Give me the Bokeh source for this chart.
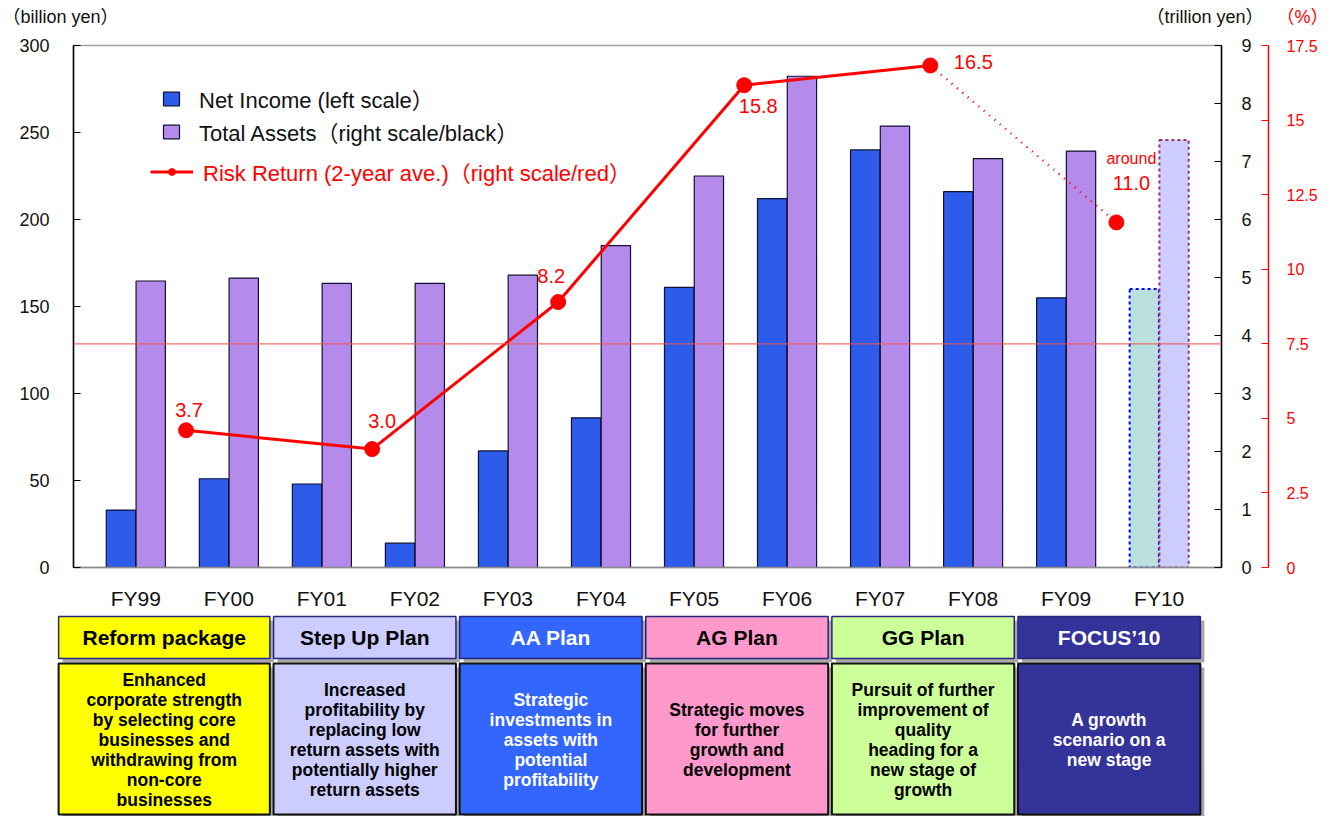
from bokeh.plotting import figure
from bokeh.models import (ColumnDataSource, Range1d, FactorRange, LinearAxis,
                          SingleIntervalTicker, NumeralTickFormatter, Span,
                          Legend, LegendItem)
from bokeh.transform import dodge
from bokeh.core.properties import value
from bokeh.embed import file_html
from bokeh.resources import INLINE

# ---------------- data ----------------
fiscal_years = ["FY99", "FY00", "FY01", "FY02", "FY03", "FY04",
                "FY05", "FY06", "FY07", "FY08", "FY09", "FY10"]
net_income = [33, 51, 48, 14, 67, 86, 161, 212, 240, 216, 155, 160]        # billion yen
total_assets = [4.94, 4.99, 4.90, 4.90, 5.04, 5.55, 6.75, 8.47, 7.61, 7.05, 7.18, 7.37]  # trillion yen
forecast_year = "FY10"

rr_period_end = ["FY00", "FY02", "FY04", "FY06", "FY08", "FY10"]            # 2-year periods
risk_return = [4.6, 3.97, 8.9, 16.17, 16.83, 11.57]                          # % (as plotted)
risk_return_labels = ["3.7", "3.0", "8.2", "15.8", "16.5", "11.0"]
risk_return_prefix = ["", "", "", "", "", "around"]

unit_captions = ["\uff08billion yen\uff09", "\uff08trillion yen\uff09", "\uff08%\uff09"]

plan_names = ["Reform package", "Step Up Plan", "AA Plan", "AG Plan", "GG Plan", "FOCUS\u201910"]
plan_start = ["FY99", "FY01", "FY03", "FY05", "FY07", "FY09"]
plan_end = ["FY00", "FY02", "FY04", "FY06", "FY08", "FY10"]
plan_texts = [
    "Enhanced\ncorporate strength\nby selecting core\nbusinesses and\nwithdrawing from\nnon-core\nbusinesses",
    "Increased\nprofitability by\nreplacing low\nreturn assets with\npotentially higher\nreturn assets",
    "Strategic\ninvestments in\nassets with\npotential\nprofitability",
    "Strategic moves\nfor further\ngrowth and\ndevelopment",
    "Pursuit of further\nimprovement of\nquality\nheading for a\nnew stage of\ngrowth",
    "A growth\nscenario on a\nnew stage",
]

# ---------------- styles ----------------
FONT = "Liberation Sans, Noto Sans CJK JP"
plan_fill = ["#FFFF00", "#CCCCFF", "#3366FF", "#FF99CC", "#CCFF99", "#333399"]
plan_text_color = ["black", "black", "white", "black", "black", "white"]
label_dx = [3, 10, -7, 14, 43, 15]
label_dy = [-20, -28, -26, 21, -3, -39]
caption_x = [2, 1146, 1276]
caption_color = ["#111111", "#111111", "red"]

# ---------------- header strip (unit captions) ----------------
ph = figure(width=1332, height=30, x_range=Range1d(0, 1332), y_range=Range1d(30, 0),
            output_backend="svg", toolbar_location=None,
            x_axis_location=None, y_axis_location=None,
            min_border_left=0, min_border_right=0, min_border_top=0, min_border_bottom=0)
ph.grid.visible = False
ph.outline_line_color = None
ph.text(x=caption_x, y=[16] * 3, text=unit_captions, text_color=caption_color,
        text_baseline="middle", text_font=value(FONT), text_font_size="18px")

# ---------------- main chart ----------------
p = figure(width=1332, height=582,
           x_range=FactorRange(factors=fiscal_years, range_padding=0.17,
                               range_padding_units="absolute"),
           y_range=Range1d(0, 300),
           output_backend="svg", toolbar_location=None,
           min_border_left=73, min_border_right=111,
           min_border_top=15, min_border_bottom=42)
p.xgrid.visible = False
p.ygrid.visible = False
p.outline_line_color = "#A0A0A0"
p.outline_line_width = 1.5
p.extra_y_ranges = {"assets": Range1d(0, 9), "rr": Range1d(0, 17.5)}

actual = [i for i, fy in enumerate(fiscal_years) if fy != forecast_year]
plan = [i for i, fy in enumerate(fiscal_years) if fy == forecast_year]
src_act = ColumnDataSource(dict(fy=[fiscal_years[i] for i in actual],
                                ni=[net_income[i] for i in actual],
                                ta=[total_assets[i] for i in actual]))
src_plan = ColumnDataSource(dict(fy=[fiscal_years[i] for i in plan],
                                 ni=[net_income[i] for i in plan],
                                 ta=[total_assets[i] for i in plan]))

BW = 0.315
ni_r = p.vbar(x=dodge("fy", -0.16, range=p.x_range), top="ni", width=BW, source=src_act,
              fill_color="#2D5BEA", line_color="#111133", line_width=1.2)
ta_r = p.vbar(x=dodge("fy", 0.16, range=p.x_range), top="ta", width=BW, source=src_act,
              y_range_name="assets",
              fill_color="#B48BEA", line_color="#111133", line_width=1.2)
p.vbar(x=dodge("fy", -0.16, range=p.x_range), top="ni", width=BW, source=src_plan,
       fill_color="#BBE0E0", line_color="#0000FF", line_width=2, line_dash="3 3")
p.vbar(x=dodge("fy", 0.16, range=p.x_range), top="ta", width=BW, source=src_plan,
       y_range_name="assets",
       fill_color="#CCCCFF", line_color="#993366", line_width=2, line_dash="3 3")

# 7.5% reference line
p.add_layout(Span(location=7.5, dimension="width", y_range_name="rr",
                  line_color="#EE5555", line_alpha=0.85, line_width=1.3))

# risk return line
rr_src = ColumnDataSource(dict(fy=rr_period_end, rr=risk_return, lab=risk_return_labels,
                               pre=risk_return_prefix, dx=label_dx, dy=label_dy,
                               dy2=[d - 25 for d in label_dy]))
n_solid = 5
rr_solid = ColumnDataSource(dict(fy=rr_period_end[:n_solid], rr=risk_return[:n_solid]))
rr_dot = ColumnDataSource(dict(fy=rr_period_end[n_solid - 1:], rr=risk_return[n_solid - 1:]))
XOFF = -0.46
line_r = p.line(x=dodge("fy", XOFF, range=p.x_range), y="rr", source=rr_solid,
                y_range_name="rr", line_color="red", line_width=3)
p.line(x=dodge("fy", XOFF, range=p.x_range), y="rr", source=rr_dot,
       y_range_name="rr", line_color="red", line_width=2.5, line_dash="1 6")
pt_r = p.scatter(x=dodge("fy", XOFF, range=p.x_range), y="rr", source=rr_src,
                 y_range_name="rr", size=15, fill_color="red", line_color="red")
p.text(x=dodge("fy", XOFF, range=p.x_range), y="rr", text="lab", source=rr_src,
       y_range_name="rr", x_offset="dx", y_offset="dy",
       text_align="center", text_baseline="middle", text_color="red",
       text_font=value(FONT), text_font_size="20px")
p.text(x=dodge("fy", XOFF, range=p.x_range), y="rr", text="pre", source=rr_src,
       y_range_name="rr", x_offset="dx", y_offset="dy2",
       text_align="center", text_baseline="middle", text_color="red",
       text_font=value(FONT), text_font_size="16px")

# axes
xa = p.xaxis[0]
xa.axis_line_color = "#8A8A8A"
xa.axis_line_width = 1.5
xa.major_tick_line_color = None
xa.major_label_text_font = FONT
xa.major_label_text_font_size = "21px"
xa.major_label_text_color = "#111111"
xa.major_label_standoff = 13

ya = p.yaxis[0]
ya.ticker = SingleIntervalTicker(interval=50)
ya.axis_line_color = "black"
ya.axis_line_width = 1.5
ya.major_tick_in = 7
ya.major_tick_out = 0
ya.minor_tick_line_color = None
ya.major_label_standoff = 20
ya.major_label_text_font = FONT
ya.major_label_text_font_size = "18px"
ya.major_label_text_color = "#111111"

ax_assets = LinearAxis(y_range_name="assets", ticker=SingleIntervalTicker(interval=1),
                       axis_line_color="black", axis_line_width=1.5,
                       major_tick_in=7, major_tick_out=0, minor_tick_line_color=None,
                       major_label_standoff=16, major_label_text_font=FONT,
                       major_label_text_font_size="18px", major_label_text_color="#111111",
                       axis_label=" ", axis_label_standoff=0,
                       axis_label_text_font_size="10px")
p.add_layout(ax_assets, "right")
ax_rr = LinearAxis(y_range_name="rr", ticker=SingleIntervalTicker(interval=2.5),
                   formatter=NumeralTickFormatter(format="0.[0]"),
                   axis_line_color="red", axis_line_width=1.5,
                   major_tick_line_color="red", major_tick_in=7, major_tick_out=0,
                   minor_tick_line_color=None,
                   major_label_standoff=14, major_label_text_font=FONT,
                   major_label_text_font_size="16px", major_label_text_color="red")
p.add_layout(ax_rr, "right")

# legends
leg1 = Legend(items=[LegendItem(label="Net Income (left scale\uff09", renderers=[ni_r]),
                     LegendItem(label="Total Assets\uff08right scale/black\uff09", renderers=[ta_r])],
              location=(88, 420), padding=0, margin=0, spacing=1,
              glyph_width=20, glyph_height=17, label_standoff=18,
              label_text_font=FONT, label_text_font_size="22px", label_text_color="#111111",
              background_fill_alpha=0, border_line_alpha=0)
leg2 = Legend(items=[LegendItem(label="Risk Return (2-year ave.)\uff08right scale/red\uff09",
                                renderers=[line_r, pt_r])],
              location=(77, 380), padding=0, margin=0,
              glyph_width=43, glyph_height=17, label_standoff=10,
              label_text_font=FONT, label_text_font_size="22px", label_text_color="red",
              background_fill_alpha=0, border_line_alpha=0)
p.add_layout(leg1, "center")
p.add_layout(leg2, "center")

# ---------------- plan boxes ----------------
p2 = figure(width=1332, height=204, x_range=Range1d(-0.9545, 13.36), y_range=Range1d(204, 0),
            output_backend="svg", toolbar_location=None,
            x_axis_location=None, y_axis_location=None,
            min_border_left=0, min_border_right=0, min_border_top=0, min_border_bottom=0)
p2.grid.visible = False
p2.outline_line_color = None

idx = {fy: i for i, fy in enumerate(fiscal_years)}
lefts = [idx[s] - 0.02 for s in plan_start]
lefts[0] = -0.33
rights = [idx[e] + 1 - 0.06 for e in plan_end]
px = 1 / 93.05
box = ColumnDataSource(dict(l=lefts, r=rights, cx=[(a + b) / 2 for a, b in zip(lefts, rights)],
                            ls=[a + 4 * px for a in lefts], rs=[b + 4 * px for b in rights],
                            name=plan_names, txt=plan_texts, fill=plan_fill, tc=plan_text_color))
# shadows
p2.quad(left="ls", right="rs", top=8, bottom=50, source=box, fill_color="#A8A8A8", line_color=None)
p2.quad(left="ls", right="rs", top=55, bottom=206, source=box, fill_color="#A8A8A8", line_color=None)
# headers
p2.quad(left="l", right="r", top=4, bottom=46, source=box, fill_color="fill",
        line_color="#26267F", line_width=1.5)
p2.text(x="cx", y=25, text="name", source=box, text_color="tc", text_align="center",
        text_baseline="middle", text_font=value(FONT), text_font_style="bold",
        text_font_size="21px")
# descriptions
p2.quad(left="l", right="r", top=51, bottom=202, source=box, fill_color="fill",
        line_color="#111111", line_width=2)
p2.text(x="cx", y=127, text="txt", source=box, text_color="tc", text_align="center",
        text_baseline="middle", text_font=value(FONT), text_font_style="bold",
        text_font_size="17.5px", text_line_height=1.0)

open("out.html", "w").write(file_html([ph, p, p2], INLINE))
